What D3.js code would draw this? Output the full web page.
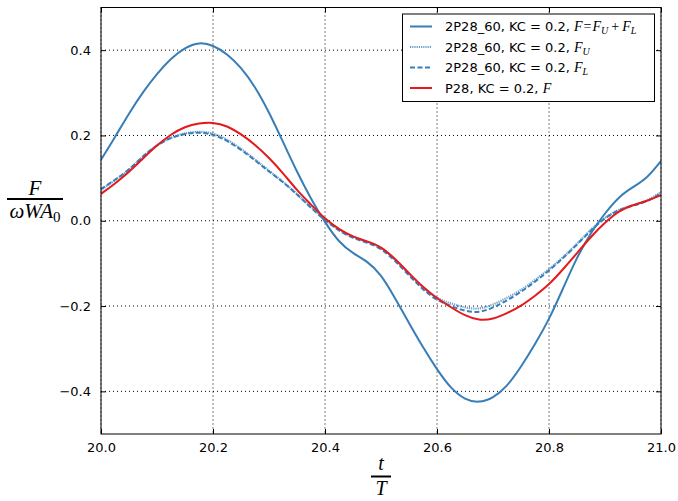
<!DOCTYPE html>
<html>
<head>
<meta charset="utf-8">
<script src="https://cdn.jsdelivr.net/npm/d3@7"></script>
<style>
  html, body { margin: 0; padding: 0; background: #fff; }
  svg { display: block; }
  .tick-label { font-family: "DejaVu Sans", sans-serif; font-size: 13px; fill: #000; }
  .math { font-family: "Liberation Serif", "DejaVu Serif", serif; font-style: italic; fill: #000; }
  .legend-text { font-family: "DejaVu Sans", sans-serif; font-size: 13px; fill: #000; }
</style>
</head>
<body>
<svg id="chart" width="678" height="501"></svg>
<script>
// Sample times t/T
const times = [
  20.000, 20.025, 20.050, 20.075, 20.100, 20.125, 20.150, 20.175, 20.200, 20.225,
  20.250, 20.275, 20.300, 20.325, 20.350, 20.375, 20.400, 20.425, 20.450, 20.475,
  20.500, 20.525, 20.550, 20.575, 20.600, 20.625, 20.650, 20.675, 20.700, 20.725,
  20.750, 20.775, 20.800, 20.825, 20.850, 20.875, 20.900, 20.925, 20.950, 20.975,
  21.000
];

// 2P28_60, total force F = F_U + F_L
const totalF = [
  0.143, 0.196, 0.252, 0.302, 0.345, 0.381, 0.406, 0.419, 0.412, 0.392,
  0.360, 0.315, 0.255, 0.185, 0.114, 0.051, -0.004, -0.051, -0.077, -0.094,
  -0.125, -0.181, -0.240, -0.297, -0.349, -0.394, -0.420, -0.427, -0.416, -0.389,
  -0.343, -0.290, -0.232, -0.159, -0.085, -0.027, 0.018, 0.057, 0.079, 0.099,
  0.140
];

// 2P28_60, upper component F_U
const upperF = [
  0.072, 0.095, 0.118, 0.152, 0.178, 0.196, 0.206, 0.210, 0.206, 0.191,
  0.169, 0.144, 0.117, 0.092, 0.063, 0.032, 0.003, -0.022, -0.039, -0.049,
  -0.061, -0.091, -0.125, -0.158, -0.183, -0.194, -0.204, -0.208, -0.197, -0.181,
  -0.163, -0.139, -0.114, -0.086, -0.054, -0.020, 0.008, 0.027, 0.037, 0.046,
  0.067
];

// 2P28_60, lower component F_L
const lowerF = [
  0.074, 0.096, 0.119, 0.152, 0.178, 0.195, 0.204, 0.208, 0.203, 0.188,
  0.167, 0.142, 0.115, 0.091, 0.062, 0.030, 0.001, -0.024, -0.041, -0.051,
  -0.064, -0.094, -0.128, -0.162, -0.187, -0.200, -0.212, -0.216, -0.204, -0.187,
  -0.167, -0.143, -0.117, -0.088, -0.056, -0.022, 0.007, 0.026, 0.036, 0.044,
  0.065
];

// P28, force F
const singleF = [
  0.063, 0.087, 0.114, 0.146, 0.177, 0.203, 0.221, 0.229, 0.231, 0.223,
  0.203, 0.179, 0.148, 0.112, 0.071, 0.038, 0.004, -0.020, -0.038, -0.048,
  -0.060, -0.089, -0.123, -0.156, -0.182, -0.203, -0.223, -0.234, -0.231, -0.217,
  -0.200, -0.176, -0.150, -0.114, -0.076, -0.037, -0.004, 0.024, 0.037, 0.046,
  0.060
];

const xTicks = [20.0, 20.2, 20.4, 20.6, 20.8, 21.0];
const yTicks = [-0.4, -0.2, 0.0, 0.2, 0.4];

const blue = "#377eb8";
const red = "#e41a1c";

const svg = d3.select("#chart");
const plotLeft = 101, plotRight = 661, plotTop = 7.5, plotBottom = 434;

const x = d3.scaleLinear().domain([20, 21]).range([plotLeft, plotRight]);
const y = d3.scaleLinear().domain([-0.5, 0.5]).range([plotBottom, plotTop]);
const fmt = d3.format(".1f");

// dotted grid
const grid = svg.append("g");
grid.selectAll("line.gx").data(xTicks).join("line")
  .attr("x1", d => x(d)).attr("x2", d => x(d))
  .attr("y1", plotTop).attr("y2", plotBottom)
  .attr("stroke", "#000").attr("stroke-width", 1)
  .attr("stroke-dasharray", "1,3");
grid.selectAll("line.gy").data(yTicks).join("line")
  .attr("x1", plotLeft).attr("x2", plotRight)
  .attr("y1", d => y(d)).attr("y2", d => y(d))
  .attr("stroke", "#000").attr("stroke-width", 1)
  .attr("stroke-dasharray", "1,3");

// series
svg.append("clipPath").attr("id", "plotclip")
  .append("rect").attr("x", plotLeft).attr("y", plotTop)
  .attr("width", plotRight - plotLeft).attr("height", plotBottom - plotTop);

const line = d3.line()
  .x((d, i) => x(times[i]))
  .y(d => y(d))
  .curve(d3.curveBasis);

const series = [
  { values: totalF, color: blue, dash: null, width: 2, opacity: 1 },
  { values: upperF, color: blue, dash: "1.2,1", width: 2.2, opacity: 0.75 },
  { values: lowerF, color: blue, dash: "5,2.5", width: 2, opacity: 1 },
  { values: singleF, color: red, dash: null, width: 2, opacity: 1 }
];

const plot = svg.append("g").attr("clip-path", "url(#plotclip)");
series.forEach(s => {
  plot.append("path")
    .attr("d", line(s.values))
    .attr("fill", "none")
    .attr("stroke", s.color)
    .attr("stroke-width", s.width)
    .attr("stroke-opacity", s.opacity)
    .attr("stroke-dasharray", s.dash);
});

// axes with inward ticks on all four sides
const tickLen = 5;
const axB = svg.append("g").attr("transform", `translate(0,${plotBottom})`)
  .call(d3.axisBottom(x).tickValues(xTicks).tickFormat(fmt).tickSizeInner(-tickLen).tickSizeOuter(0).tickPadding(9));
const axT = svg.append("g").attr("transform", `translate(0,${plotTop})`)
  .call(d3.axisTop(x).tickValues(xTicks).tickFormat("").tickSizeInner(-tickLen).tickSizeOuter(0));
const axL = svg.append("g").attr("transform", `translate(${plotLeft},0)`)
  .call(d3.axisLeft(y).tickValues(yTicks).tickFormat(fmt).tickSizeInner(-tickLen).tickSizeOuter(0).tickPadding(10));
const axR = svg.append("g").attr("transform", `translate(${plotRight},0)`)
  .call(d3.axisRight(y).tickValues(yTicks).tickFormat("").tickSizeInner(-tickLen).tickSizeOuter(0));

[axB, axT, axL, axR].forEach(a => {
  a.select(".domain").remove();
  a.attr("font-family", null).attr("font-size", null);
  a.selectAll(".tick line").attr("stroke", "#000").attr("stroke-width", 1);
  a.selectAll(".tick text").attr("class", "tick-label");
});

// frame
svg.append("rect")
  .attr("x", plotLeft).attr("y", plotTop)
  .attr("width", plotRight - plotLeft).attr("height", plotBottom - plotTop)
  .attr("fill", "none").attr("stroke", "#000").attr("stroke-width", 1);

// x label: t / T
const xl = svg.append("g").attr("transform", `translate(${(plotLeft + plotRight) / 2},0)`);
xl.append("text").attr("class", "math").attr("font-size", 20)
  .attr("text-anchor", "middle").attr("y", 470).text("t");
xl.append("line").attr("x1", -10).attr("x2", 10).attr("y1", 476.5).attr("y2", 476.5)
  .attr("stroke", "#000").attr("stroke-width", 2);
xl.append("text").attr("class", "math").attr("font-size", 20)
  .attr("text-anchor", "middle").attr("y", 495).text("T");

// y label: F / (omega W A_0)
const yl = svg.append("g").attr("transform", "translate(35,0)");
yl.append("text").attr("class", "math").attr("font-size", 21)
  .attr("text-anchor", "middle").attr("y", 194.5).text("F");
yl.append("line").attr("x1", -28).attr("x2", 28).attr("y1", 199).attr("y2", 199)
  .attr("stroke", "#000").attr("stroke-width", 2);
const den = yl.append("text").attr("class", "math").attr("font-size", 21)
  .attr("text-anchor", "middle").attr("y", 218);
den.append("tspan").text("ωWA");
den.append("tspan").attr("font-size", 15).attr("font-style", "normal").attr("dy", 4).text("0");

// legend: plain label followed by a math expression built from pieces
// piece = { s: text, sub: subscript?, up: upright operator?, dx: extra gap before }
const legendItems = [
  { series: series[0], label: "2P28_60, KC = 0.2, ",
    math: [{ s: "F" }, { s: "=", up: true, dx: 1 }, { s: "F", dx: 1 }, { s: "U", sub: true },
           { s: "+", up: true, dx: 3 }, { s: "F", dx: 3 }, { s: "L", sub: true }] },
  { series: series[1], label: "2P28_60, KC = 0.2, ", math: [{ s: "F" }, { s: "U", sub: true }] },
  { series: series[2], label: "2P28_60, KC = 0.2, ", math: [{ s: "F" }, { s: "L", sub: true }] },
  { series: series[3], label: "P28, KC = 0.2, ", math: [{ s: "F" }] }
];

const lg = svg.append("g");
lg.append("rect")
  .attr("x", 402.5).attr("y", 14).attr("width", 252).attr("height", 87.5)
  .attr("fill", "#fff").attr("stroke", "#000").attr("stroke-width", 1);

const rowY = [26.5, 47, 67.5, 88];
legendItems.forEach((it, i) => {
  const yy = rowY[i];
  lg.append("line")
    .attr("x1", 410).attr("x2", 432).attr("y1", yy).attr("y2", yy)
    .attr("stroke", it.series.color)
    .attr("stroke-width", it.series.width)
    .attr("stroke-opacity", it.series.opacity)
    .attr("stroke-dasharray", it.series.dash);
  const t = lg.append("text").attr("class", "legend-text")
    .attr("x", 445).attr("y", yy + 4.5);
  t.append("tspan").text(it.label);
  let lowered = false;
  it.math.forEach(p => {
    const sp = t.append("tspan")
      .attr("font-family", "Liberation Serif, DejaVu Serif, serif")
      .attr("font-style", p.up ? "normal" : "italic")
      .attr("font-size", p.sub ? 10 : 14);
    if (p.dx) sp.attr("dx", p.dx);
    if (p.sub && !lowered) { sp.attr("dy", 3); lowered = true; }
    else if (!p.sub && lowered) { sp.attr("dy", -3); lowered = false; }
    sp.text(p.s);
  });
});
</script>
</body>
</html>
